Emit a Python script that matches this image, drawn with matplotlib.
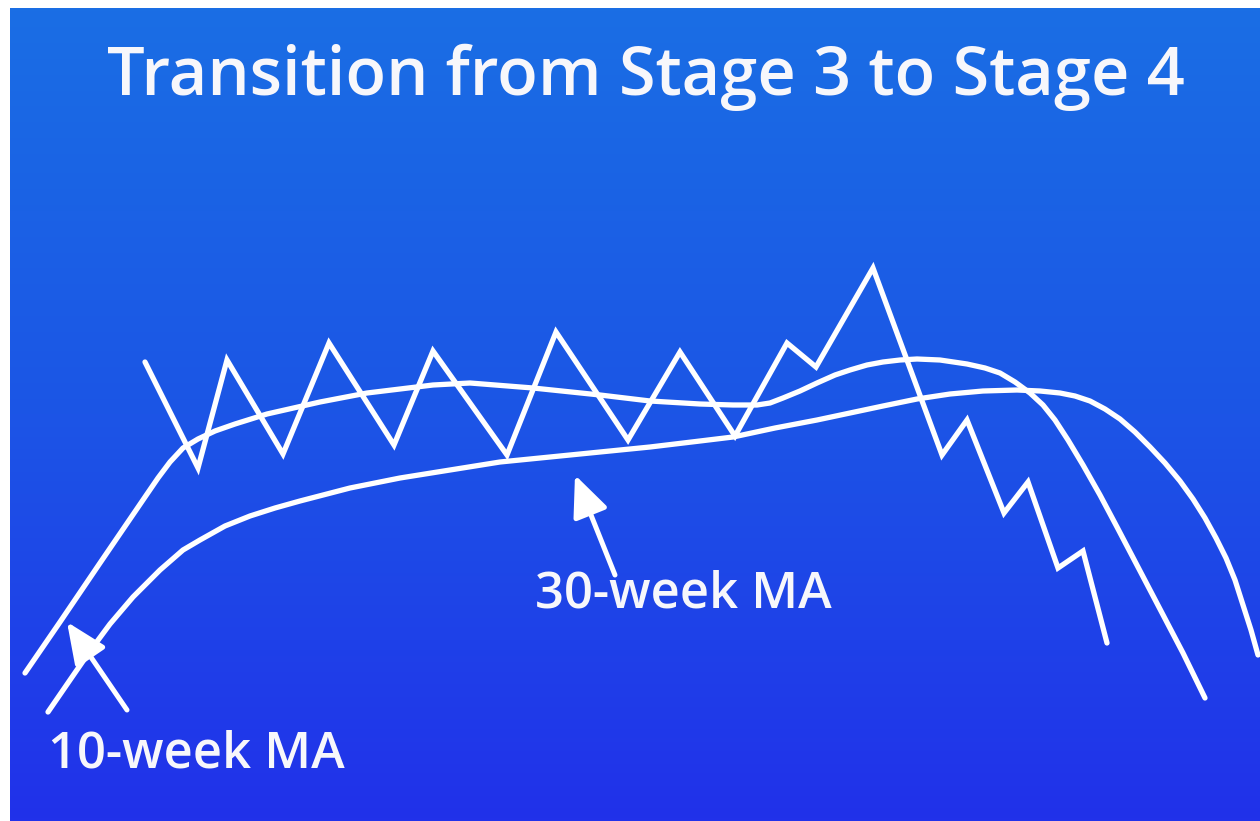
import numpy as np
import matplotlib
matplotlib.use("Agg")
import matplotlib.pyplot as plt
from matplotlib.colors import LinearSegmentedColormap

# Everything is in image pixels (x to the right, y downwards).
TITLE = "Transition from Stage 3 to Stage 4"
LABEL_10 = "10-week MA"
LABEL_30 = "30-week MA"

price_x = [145, 198, 227, 283, 329, 394, 433, 507, 556, 628, 680, 735, 787, 816, 873,
           942, 967, 1004, 1028, 1058, 1083, 1107]
price_y = [362, 468, 360, 454, 343, 445, 351, 455, 332, 440, 352, 436, 343, 367, 268,
           455, 420, 513, 482, 568, 551, 643]

ma10_x = [25, 60, 100, 130, 145, 158, 170, 183, 198, 215, 235, 267, 320, 367, 433, 470,
          533, 600, 650, 700, 733, 757, 770, 783, 800, 817, 835, 850, 867, 883, 900,
          917, 940, 967, 985, 1000, 1015, 1030, 1043, 1055, 1068, 1083, 1100, 1117, 1150,
          1183, 1205]
ma10_y = [673, 622, 563, 519, 497, 478, 462, 448, 439, 431, 424, 414, 402, 393, 385, 383,
          388, 395, 401, 404, 405, 405, 403, 398, 391, 383, 375, 370, 365, 362, 360,
          359, 360, 364, 368, 373, 382, 393, 405, 420, 440, 465, 495, 527, 590,
          653, 698]

ma30_x = [48, 70, 90, 110, 133, 160, 183, 200, 225, 250, 275, 300, 350, 400, 450, 500,
          550, 600, 650, 700, 733, 775, 817, 850, 883, 917, 950, 983, 1017, 1040, 1060,
          1075, 1090, 1105, 1120, 1135, 1150, 1165, 1180, 1193, 1205, 1216, 1226, 1235,
          1243, 1251, 1258]
ma30_y = [712, 680, 651, 624, 597, 570, 550, 540, 526, 516, 508, 501, 488, 478, 470, 462,
          457, 452, 447, 441, 437, 428, 420, 413, 406, 399, 394, 391, 390, 391, 393,
          396, 401, 409, 419, 432, 447, 463, 481, 499, 518, 538, 558, 580,
          605, 630, 655]

# arrows: (tip, tail)
arrow_10 = ((67, 622), (127, 710))
arrow_30 = ((575, 475), (615, 575))

W, H = 1260, 821
fig = plt.figure(figsize=(W / 100, H / 100), dpi=100)
fig.patch.set_facecolor("white")
ax = fig.add_axes([0, 0, 1, 1])
ax.set_xlim(0, W)
ax.set_ylim(H, 0)
ax.axis("off")

# background gradient, light blue at top to deep blue at bottom
cmap = LinearSegmentedColormap.from_list("bg", ["#1a6ee4", "#1c55e6", "#2131ea"])
grad = np.linspace(0, 1, 256).reshape(-1, 1)
ax.imshow(grad, cmap=cmap, aspect="auto", extent=[10, W, H, 8], zorder=0)

curve_kw = dict(color="white", lw=3.8, solid_joinstyle="round", solid_capstyle="round", zorder=3)
ax.plot(ma10_x, ma10_y, **curve_kw)
ax.plot(ma30_x, ma30_y, **curve_kw)
ax.plot(price_x, price_y, color="white", lw=3.8, solid_joinstyle="miter",
        solid_capstyle="round", zorder=3)

for tip, tail in (arrow_10, arrow_30):
    ax.annotate(
        "", xy=tip, xytext=tail,
        arrowprops=dict(arrowstyle="-|>,head_length=1.25,head_width=0.55", mutation_scale=20,
                        lw=3.6, color="white", shrinkA=0, shrinkB=0),
        zorder=4,
    )

font = "Open Sans"
txt_color = "#f7f7fb"
ax.text(646, 95, TITLE, color=txt_color, fontsize=48, ha="center", va="baseline",
        family=font, fontweight="semibold")
ax.text(535, 607, LABEL_30, color=txt_color, fontsize=36.5, ha="left", va="baseline",
        family=font, fontweight="semibold")
ax.text(48, 768, LABEL_10, color=txt_color, fontsize=36.5, ha="left", va="baseline",
        family=font, fontweight="semibold")

fig.savefig("out.png", dpi=100, facecolor=fig.get_facecolor())
